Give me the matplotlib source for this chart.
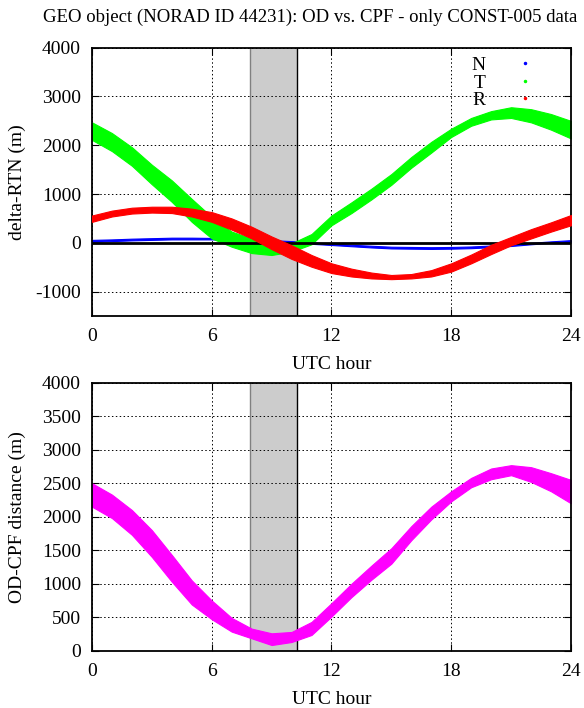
import matplotlib
matplotlib.use("Agg")
import matplotlib.pyplot as plt
from matplotlib.lines import Line2D
import numpy as np

plt.rcParams['font.family'] = ['Liberation Serif', 'DejaVu Serif']
plt.rcParams['font.size'] = 14
plt.rcParams['axes.unicode_minus'] = False

# UTC hours of the read-off samples
hours = np.arange(0, 25)

# band edges (upper / lower), metres
t_hi = [2470, 2250, 1960, 1600, 1280, 900, 530, 230, 90, 20, -10, 180, 560,
        830, 1110, 1410, 1760, 2070, 2340, 2560, 2700, 2780, 2740, 2640, 2500]
t_lo = [2110, 1880, 1580, 1200, 840, 430, 90, -80, -210, -250, -180, -30, 360,
        610, 890, 1190, 1540, 1850, 2170, 2400, 2530, 2560, 2470, 2320, 2140]

r_hi = [560, 660, 720, 740, 740, 700, 630, 500, 330, 130, -50, -250, -420,
        -530, -610, -660, -640, -560, -420, -240, -40, 120, 280, 420, 570]
r_lo = [430, 540, 600, 620, 610, 540, 430, 270, 90, -130, -330, -490, -620,
        -690, -730, -745, -730, -690, -590, -420, -230, -50, 90, 230, 360]

n_hi = [60, 70, 85, 95, 105, 105, 100, 90, 75, 55, 35, 10, -15,
        -40, -60, -80, -85, -90, -85, -75, -55, -30, 0, 30, 55]
n_lo = [20, 35, 50, 60, 70, 70, 70, 60, 45, 25, 5, -20, -45,
        -70, -95, -115, -120, -125, -120, -110, -90, -65, -30, 0, 20]

d_hi = [2500, 2330, 2100, 1800, 1430, 1050, 750, 490, 330, 260, 280, 430, 710,
        1000, 1270, 1530, 1860, 2150, 2380, 2580, 2720, 2770, 2740, 2650, 2550]
d_lo = [2150, 1980, 1730, 1400, 1030, 690, 470, 285, 185, 85, 130, 235, 510,
        800, 1060, 1300, 1650, 1960, 2230, 2440, 2560, 2620, 2520, 2380, 2200]

# shaded interval (UTC hour)
shade = (7.92, 10.28)

fig = plt.figure(figsize=(5.84, 7.08), dpi=100)
ax1 = fig.add_axes([0.1575, 0.5537, 0.8202, 0.3789])
ax2 = fig.add_axes([0.1575, 0.0809, 0.8202, 0.3785])

fig.text(0.531, 0.976, 'GEO object (NORAD ID 44231): OD vs. CPF - only CONST-005 data',
         ha='center', va='center', fontsize=13.5)

def setup(ax):
    ax.set_xlim(0, 24)
    ax.set_xticks([0, 6, 12, 18, 24])
    ax.axvspan(shade[0], shade[1], color='#cccccc', zorder=0, lw=0)
    ax.axvline(shade[0], color='#808080', lw=1, zorder=0.5)
    ax.axvline(shade[1], color='black', lw=1, zorder=0.5)
    ax.grid(True, color='black', ls=(0, (1.5, 2.5)), lw=0.7)
    ax.set_axisbelow(True)
    ax.tick_params(direction='in', top=True, right=True, length=5, labelsize=14, pad=8)
    ax.tick_params(axis='x', pad=9)
    for s in ax.spines.values():
        s.set_linewidth(1.3)
    ax.set_xlabel('UTC hour', fontsize=14)
    ax.xaxis.set_label_coords(0.5, -0.149)
    ax.yaxis.set_label_coords(-0.138, 0.5)

setup(ax1)
ax1.set_ylim(-1500, 4000)
ax1.set_yticks(range(-1000, 4001, 1000))
ax1.axhline(0, color='black', lw=2, zorder=2.5)
ax1.fill_between(hours, n_lo, n_hi, color='#0000ff', lw=0.8, zorder=2)
ax1.fill_between(hours, t_lo, t_hi, color='#00ff00', lw=0.8, zorder=2.2)
ax1.fill_between(hours, r_lo, r_hi, color='#ff0000', lw=0.8, zorder=3)
ax1.set_ylabel('delta-RTN (m)', fontsize=14)

handles = [Line2D([], [], ls='none', marker='.', ms=3, color=c)
           for c in ['#0000ff', '#00ff00', '#ff0000']]
ax1.legend(handles, ['N', 'T', 'R'], loc='upper right', bbox_to_anchor=(0.962, 1.0),
           borderaxespad=0.05, frameon=False, markerfirst=False, handlelength=2.0,
           handletextpad=1.0, labelspacing=0.0, fontsize=14)

setup(ax2)
ax2.set_ylim(0, 4000)
ax2.set_yticks(range(0, 4001, 500))
ax2.fill_between(hours, d_lo, d_hi, color='#ff00ff', lw=0.8, zorder=2)
ax2.set_ylabel('OD-CPF distance (m)', fontsize=14)

fig.savefig('out.png', dpi=100)
